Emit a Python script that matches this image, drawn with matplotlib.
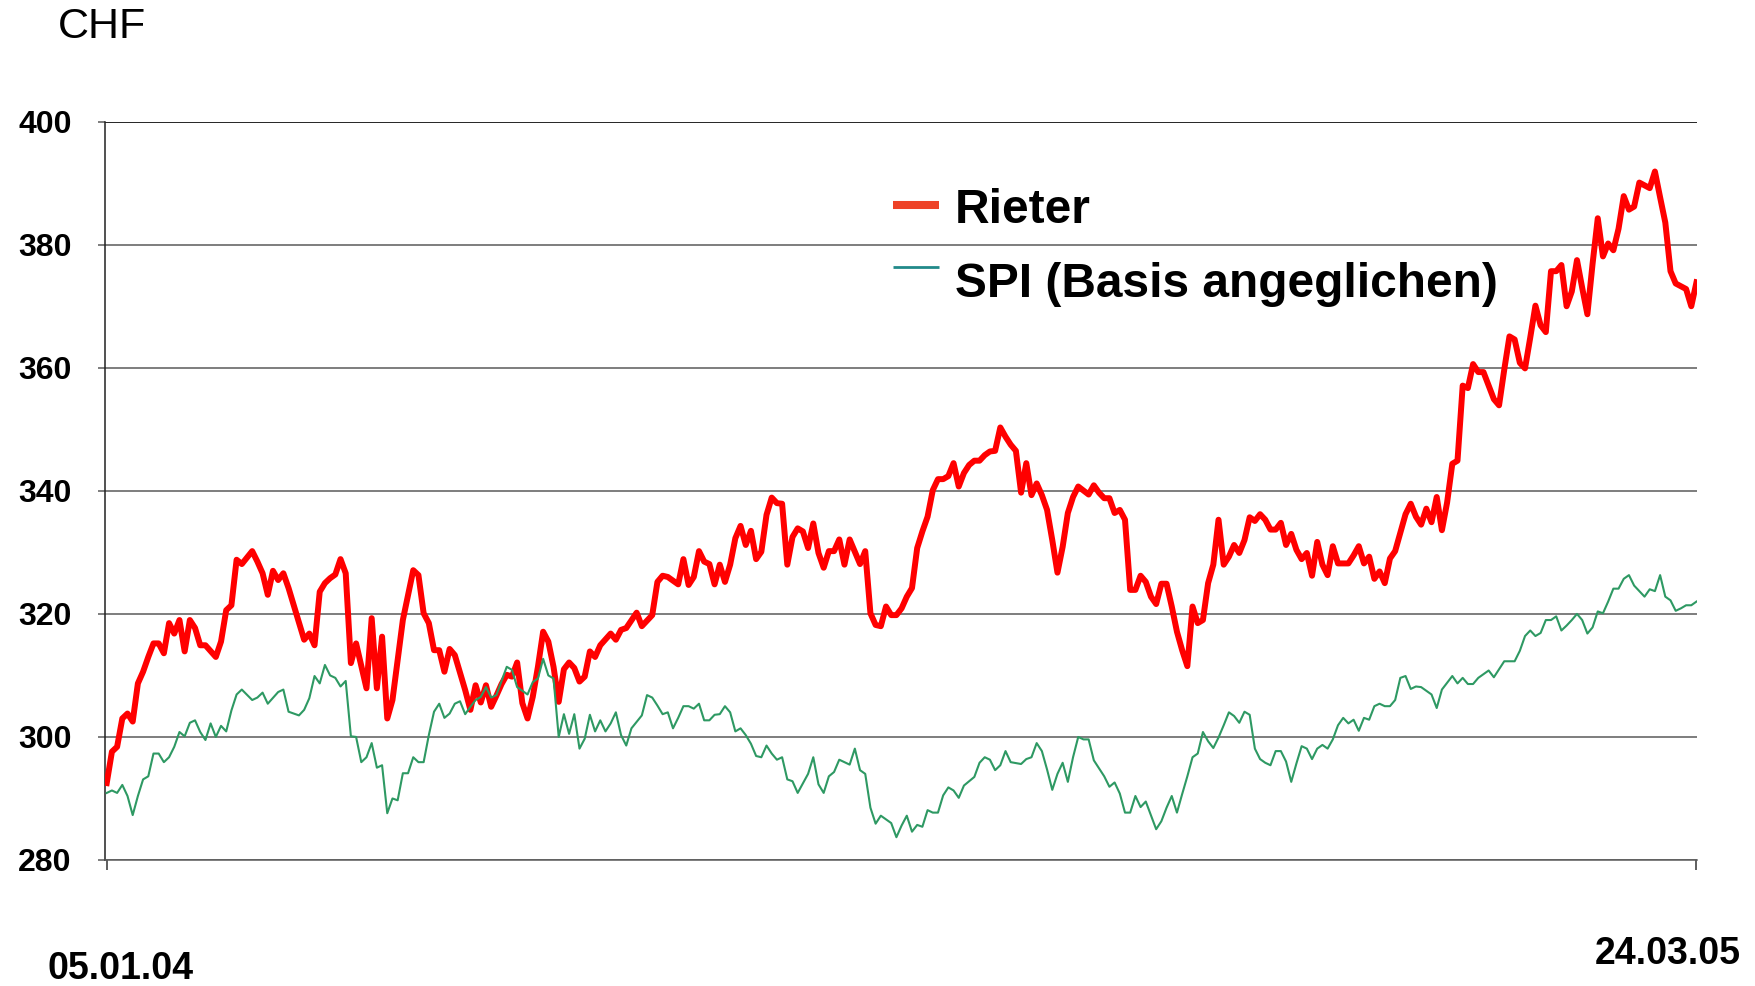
import matplotlib
matplotlib.use('Agg')
import matplotlib.pyplot as plt
from matplotlib.lines import Line2D

plt.rcParams['font.family'] = ['Liberation Sans', 'DejaVu Sans']

# Rieter Schlusskurse (CHF), Handelstag ab 05.01.04
rieter_day = [
    0, 1, 2, 3, 4, 5, 6, 7, 8, 9, 10, 11, 12, 13, 14, 15, 16, 17, 18, 19,
    21, 22, 23, 24, 25, 26, 28, 29, 30, 31, 32, 33, 34, 35, 36, 38, 39, 40,
    41, 42, 43, 44, 45, 46, 47, 48, 50, 51, 52, 53, 54, 55, 56, 57, 59, 60,
    61, 62, 63, 64, 65, 66, 67, 69, 70, 71, 72, 73, 74, 75, 76, 77, 78, 79,
    80, 81, 82, 83, 84, 85, 86, 87, 88, 89, 90, 91, 92, 93, 94, 95, 97, 98,
    99, 100, 102, 103, 105, 106, 107, 108, 110, 111, 112, 113, 114, 115, 116,
    117, 118, 119, 120, 121, 122, 123, 124, 125, 126, 127, 128, 129, 130, 131,
    132, 133, 134, 135, 136, 137, 138, 139, 140, 141, 142, 143, 145, 146, 147,
    148, 149, 150, 151, 152, 153, 154, 155, 156, 157, 158, 159, 160, 161, 162,
    163, 164, 165, 166, 167, 168, 169, 170, 171, 172, 173, 174, 175, 176, 177,
    178, 179, 180, 181, 182, 183, 184, 185, 186, 187, 189, 190, 191, 192, 193,
    194, 195, 196, 197, 198, 199, 200, 201, 202, 203, 204, 205, 206, 207, 208,
    209, 210, 211, 212, 213, 214, 215, 216, 217, 218, 219, 220, 221, 222, 223,
    224, 225, 226, 227, 228, 229, 230, 231, 232, 233, 234, 235, 236, 237, 239,
    240, 241, 242, 243, 244, 245, 246, 247, 248, 249, 250, 251, 252, 253, 254,
    255, 256, 257, 258, 259, 260, 261, 262, 263, 264, 265, 266, 267, 268, 269,
    270, 271, 272, 273, 274, 275, 276, 277, 278, 279, 280, 281, 282, 283, 284,
    285, 286, 287, 288, 289, 290, 291, 292, 293, 294, 295, 297, 298, 299, 300,
    301, 302, 304, 305, 306]
rieter_chf = [
    292.5, 297.6, 298.4, 303.0, 303.8, 302.5, 308.7, 310.6, 313.0, 315.2,
    315.2, 313.6, 318.5, 316.8, 319.0, 313.9, 319.0, 317.7, 314.9, 314.9,
    313.0, 315.5, 320.6, 321.4, 328.8, 328.1, 330.2, 328.5, 326.6, 323.1,
    327.0, 325.5, 326.6, 324.2, 321.4, 315.8, 316.8, 314.9, 323.6, 325.0,
    325.8, 326.4, 328.9, 326.6, 312.0, 315.2, 307.9, 319.3, 307.9, 316.3,
    303.0, 306.0, 312.5, 319.0, 327.1, 326.3, 320.1, 318.5, 314.1, 314.1,
    310.6, 314.3, 313.3, 307.6, 304.4, 308.4, 305.6, 308.4, 304.9, 306.7,
    308.6, 310.1, 309.8, 312.1, 305.5, 303.0, 306.5, 311.4, 317.1, 315.5,
    311.4, 305.7, 311.0, 312.1, 311.2, 309.0, 309.8, 313.9, 313.0, 314.9,
    316.8, 315.8, 317.4, 317.7, 320.2, 318.0, 319.8, 325.2, 326.2, 326.0,
    324.8, 328.9, 324.7, 326.0, 330.2, 328.5, 328.1, 324.8, 328.0, 325.2,
    328.0, 332.3, 334.3, 331.2, 333.5, 328.9, 330.1, 336.1, 338.9, 338.0,
    337.9, 328.0, 332.5, 333.9, 333.4, 330.7, 334.7, 329.9, 327.5, 330.2,
    330.2, 332.1, 328.0, 332.1, 328.1, 330.2, 320.1, 318.2, 318.0, 321.2,
    319.8, 319.8, 320.9, 322.8, 324.2, 330.7, 333.4, 335.8, 340.1, 341.9,
    341.9, 342.4, 344.5, 340.7, 342.9, 344.2, 344.9, 344.9, 345.8, 346.4,
    346.5, 350.3, 348.8, 347.5, 346.5, 339.7, 344.5, 339.3, 341.2, 339.3,
    336.9, 332.0, 326.7, 330.9, 336.4, 339.0, 340.7, 339.4, 340.9, 339.7,
    338.8, 338.8, 336.4, 336.9, 335.3, 323.9, 323.9, 326.2, 325.2, 322.8,
    321.6, 324.9, 324.9, 321.2, 317.1, 314.1, 311.5, 321.2, 318.5, 319.0,
    325.0, 328.0, 335.3, 328.0, 329.3, 331.2, 329.9, 332.0, 335.7, 335.1,
    336.2, 335.3, 333.7, 333.7, 334.8, 331.2, 333.0, 330.4, 328.9, 329.9,
    326.2, 331.7, 328.0, 326.3, 331.0, 328.2, 328.2, 329.5, 331.0, 328.2,
    329.3, 325.7, 326.9, 325.0, 329.0, 330.2, 333.2, 336.2, 337.9, 335.8,
    334.5, 337.1, 334.9, 339.0, 333.6, 338.1, 344.4, 344.9, 357.1, 356.7,
    360.6, 359.3, 359.3, 357.1, 354.9, 353.9, 359.7, 365.1, 364.6, 360.8,
    359.9, 364.9, 370.1, 366.9, 365.8, 375.7, 375.7, 376.7, 370.0, 372.4,
    377.5, 373.0, 368.7, 376.9, 384.3, 378.1, 380.2, 379.1, 382.6, 387.9,
    385.7, 386.2, 390.1, 389.2, 391.9, 387.7, 383.6, 375.7, 373.7, 372.8,
    370.0, 373.9]

# SPI, auf Rieter-Basis umgerechnet
spi_day = [
    0, 1, 2, 3, 4, 5, 6, 7, 8, 9, 10, 11, 12, 13, 14, 15, 16, 17, 18, 19, 20,
    21, 22, 23, 24, 25, 26, 28, 29, 30, 31, 33, 34, 35, 37, 38, 39, 40, 41,
    42, 43, 44, 45, 46, 47, 48, 49, 50, 51, 52, 53, 54, 55, 56, 57, 58, 59,
    60, 61, 62, 63, 64, 65, 66, 67, 68, 69, 70, 71, 72, 73, 74, 75, 76, 77,
    78, 79, 81, 82, 83, 84, 85, 86, 87, 88, 89, 90, 91, 92, 93, 94, 95, 96,
    97, 98, 99, 100, 101, 103, 104, 105, 106, 107, 108, 109, 110, 111, 112,
    113, 114, 115, 116, 117, 118, 119, 120, 121, 122, 123, 124, 125, 126, 127,
    128, 129, 130, 131, 132, 133, 135, 136, 137, 138, 139, 140, 141, 142, 143,
    144, 145, 146, 147, 148, 149, 151, 152, 153, 154, 155, 156, 157, 158, 159,
    160, 161, 162, 163, 164, 165, 167, 168, 169, 170, 171, 172, 173, 174, 176,
    177, 178, 179, 180, 181, 182, 183, 184, 185, 186, 187, 188, 189, 190, 191,
    192, 193, 194, 195, 196, 197, 198, 199, 200, 202, 203, 204, 205, 206, 207,
    208, 209, 210, 211, 212, 213, 214, 215, 216, 217, 218, 219, 220, 221, 222,
    223, 224, 225, 226, 227, 228, 229, 230, 231, 232, 233, 234, 235, 236, 237,
    238, 239, 240, 241, 242, 243, 244, 245, 246, 247, 248, 249, 250, 251, 252,
    253, 255, 256, 257, 259, 260, 261, 262, 263, 264, 265, 266, 267, 269, 271,
    272, 273, 274, 275, 276, 277, 278, 279, 280, 281, 282, 283, 284, 285, 286,
    287, 288, 289, 290, 291, 292, 293, 294, 295, 296, 297, 298, 299, 300, 301,
    302, 303, 304, 305, 306]
spi_chf = [
    290.9, 291.3, 290.9, 292.2, 290.4, 287.3, 290.4, 293.1, 293.6, 297.3,
    297.3, 295.9, 296.7, 298.4, 300.8, 300.1, 302.3, 302.7, 300.8, 299.5,
    302.2, 300.0, 301.8, 300.9, 304.3, 306.9, 307.7, 306.0, 306.4, 307.2,
    305.4, 307.3, 307.7, 304.1, 303.5, 304.4, 306.3, 309.9, 308.7, 311.7,
    310.0, 309.6, 308.2, 309.1, 300.1, 300.0, 295.9, 296.7, 299.0, 295.0,
    295.4, 287.6, 290.0, 289.7, 294.1, 294.1, 296.7, 295.9, 295.9, 300.3,
    304.1, 305.4, 303.1, 303.8, 305.4, 305.8, 303.7, 304.9, 306.0, 306.5,
    308.1, 306.4, 306.8, 309.1, 311.4, 310.9, 308.1, 306.9, 308.9, 309.5,
    312.7, 310.0, 309.5, 300.0, 303.7, 300.5, 303.7, 298.1, 299.7, 303.6,
    300.9, 302.7, 300.9, 302.2, 304.0, 300.3, 298.6, 301.4, 303.5, 306.8,
    306.4, 305.1, 303.7, 304.0, 301.4, 303.1, 305.0, 305.0, 304.6, 305.4,
    302.7, 302.7, 303.6, 303.7, 305.0, 304.0, 300.9, 301.4, 300.3, 298.9,
    296.9, 296.7, 298.6, 297.3, 296.3, 296.7, 293.1, 292.8, 290.9, 294.0,
    296.7, 292.3, 290.9, 293.6, 294.3, 296.3, 295.9, 295.5, 298.1, 294.6,
    294.0, 288.5, 285.9, 287.2, 286.0, 283.7, 285.6, 287.2, 284.6, 285.7,
    285.4, 288.1, 287.7, 287.7, 290.5, 291.8, 291.3, 290.1, 292.1, 293.5,
    295.8, 296.7, 296.3, 294.6, 295.4, 297.7, 295.9, 295.6, 296.4, 296.7,
    299.0, 297.7, 294.7, 291.4, 294.0, 295.8, 292.7, 296.7, 300.0, 299.6,
    299.6, 296.2, 294.9, 293.6, 291.9, 292.6, 290.8, 287.7, 287.7, 290.4,
    288.6, 289.5, 285.0, 286.3, 288.5, 290.4, 287.7, 290.7, 293.6, 296.7,
    297.3, 300.8, 299.3, 298.2, 299.9, 301.9, 304.0, 303.4, 302.3, 304.1,
    303.6, 298.1, 296.4, 295.8, 295.4, 297.7, 297.7, 296.0, 292.7, 295.7,
    298.5, 298.1, 296.4, 298.1, 298.7, 298.1, 299.6, 301.9, 303.1, 302.2,
    302.8, 301.0, 303.1, 302.8, 305.0, 305.4, 305.0, 305.0, 306.0, 309.6,
    309.9, 307.8, 308.2, 308.1, 306.9, 304.7, 307.7, 309.9, 308.7, 309.6,
    308.6, 308.6, 309.6, 310.2, 310.8, 309.7, 312.3, 312.3, 314.0, 316.4,
    317.3, 316.4, 316.9, 319.0, 319.0, 319.6, 317.3, 318.1, 319.0, 320.0,
    319.0, 316.8, 317.8, 320.4, 320.1, 322.0, 324.1, 324.1, 325.7, 326.3,
    324.6, 323.7, 322.8, 324.0, 323.7, 326.3, 322.8, 322.2, 320.5, 320.9,
    321.4, 321.4, 322.0]

y_ticks = [280, 300, 320, 340, 360, 380, 400]
start_label = '05.01.04'
end_label = '24.03.05'
last_day = 306

fig = plt.figure(figsize=(17.56, 9.86), dpi=100)
ax = fig.add_axes([0.0598, 0.1278, 0.9066, 0.7488])

ax.plot(rieter_day, rieter_chf, color='#ff0000', lw=4.3,
        solid_joinstyle='round', zorder=3)
ax.plot(spi_day, spi_chf, color='#2e9963', lw=1.5, zorder=4)

ax.set_xlim(-0.33, last_day + 0.1)
ax.set_ylim(280, 400)

# Achsen / Gitter
ax.set_yticks(y_ticks)
ax.set_yticklabels([str(v) for v in y_ticks], fontsize=23, fontweight='bold')
for lab in ax.get_yticklabels():
    lab.set_y(lab.get_position()[1])
    lab.set_verticalalignment('center_baseline')
ax.yaxis.grid(True, color='#5a5a5a', lw=1.1)
ax.set_axisbelow(True)
ax.tick_params(axis='y', length=5, width=1.1, color='#5a5a5a', pad=19)
ax.set_xticks([0, last_day])
ax.set_xticklabels(['', ''])
ax.tick_params(axis='x', length=7.5, width=1.1, color='#333333')
for side in ['top', 'right']:
    ax.spines[side].set_visible(False)
ax.spines['left'].set_color('#222222')
ax.spines['left'].set_linewidth(1.1)
ax.spines['bottom'].set_color('#5a5a5a')
ax.spines['bottom'].set_linewidth(1.1)
ax.axhline(400, color='#111111', lw=1.1, zorder=2)

# Texte
fig.text(0.033, 0.9726, 'CHF', fontsize=31, va='center', ha='left')
fig.text(0.0268, 0.0075, start_label, fontsize=27, fontweight='bold',
         ha='left', va='baseline')
fig.text(0.9915, 0.0223, end_label, fontsize=27, fontweight='bold',
         ha='right', va='baseline')

# Legende
fig.add_artist(Line2D([0.5085, 0.5347], [0.7921, 0.7921],
                      color='#ee4126', lw=5.8, solid_capstyle='butt'))
fig.add_artist(Line2D([0.5085, 0.5347], [0.7292, 0.7292],
                      color='#218a8a', lw=2.0, solid_capstyle='butt'))
fig.text(0.5438, 0.7738, 'Rieter', fontsize=34.5, fontweight='bold',
         ha='left', va='baseline')
fig.text(0.5438, 0.6988, 'SPI (Basis angeglichen)', fontsize=34.5,
         fontweight='bold', ha='left', va='baseline')

fig.savefig('out.png', dpi=100)
